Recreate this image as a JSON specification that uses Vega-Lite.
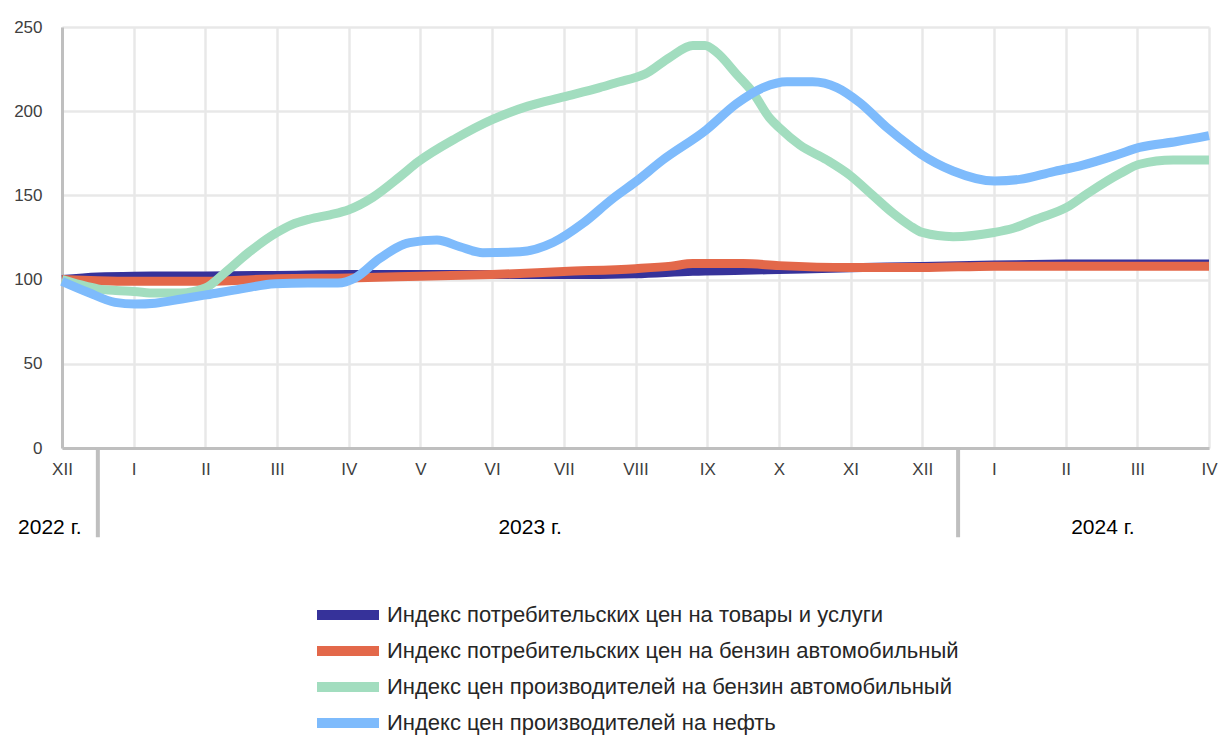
{
  "$schema": "https://vega.github.io/schema/vega-lite/v6.json",
  "width": 1147,
  "height": 421,
  "autosize": {"type": "none"},
  "padding": {"left": 62, "top": 27, "right": 11, "bottom": 288},
  "background": "white",
  "config": {
    "view": {"stroke": null},
    "font": "Liberation Sans",
    "axis": {"labelFont": "Liberation Sans", "labelColor": "#404040", "ticks": false, "title": null, "gridColor": "#e8e8e8", "gridWidth": 2.5, "domainColor": "#bfbfbf", "domainWidth": 3},
    "legend": {"labelFont": "Liberation Sans"}
  },
  "datasets": {
    "series": [
      {"s": "Индекс потребительских цен на товары и услуги", "m": 0, "v": 100},
      {"s": "Индекс потребительских цен на товары и услуги", "m": 0.5, "v": 101.5},
      {"s": "Индекс потребительских цен на товары и услуги", "m": 1, "v": 102},
      {"s": "Индекс потребительских цен на товары и услуги", "m": 2, "v": 102.2},
      {"s": "Индекс потребительских цен на товары и услуги", "m": 3, "v": 102.5},
      {"s": "Индекс потребительских цен на товары и услуги", "m": 4, "v": 103},
      {"s": "Индекс потребительских цен на товары и услуги", "m": 5, "v": 103},
      {"s": "Индекс потребительских цен на товары и услуги", "m": 6, "v": 103},
      {"s": "Индекс потребительских цен на товары и услуги", "m": 7, "v": 103},
      {"s": "Индекс потребительских цен на товары и услуги", "m": 8, "v": 103.5},
      {"s": "Индекс потребительских цен на товары и услуги", "m": 8.8, "v": 105},
      {"s": "Индекс потребительских цен на товары и услуги", "m": 9.5, "v": 105.5},
      {"s": "Индекс потребительских цен на товары и услуги", "m": 10, "v": 106},
      {"s": "Индекс потребительских цен на товары и услуги", "m": 11, "v": 107},
      {"s": "Индекс потребительских цен на товары и услуги", "m": 12, "v": 107.8},
      {"s": "Индекс потребительских цен на товары и услуги", "m": 13, "v": 108.6},
      {"s": "Индекс потребительских цен на товары и услуги", "m": 14, "v": 109.2},
      {"s": "Индекс потребительских цен на товары и услуги", "m": 15, "v": 109.3},
      {"s": "Индекс потребительских цен на товары и услуги", "m": 16, "v": 109.3},

      {"s": "Индекс потребительских цен на бензин автомобильный", "m": 0, "v": 100},
      {"s": "Индекс потребительских цен на бензин автомобильный", "m": 0.5, "v": 99.3},
      {"s": "Индекс потребительских цен на бензин автомобильный", "m": 1, "v": 99},
      {"s": "Индекс потребительских цен на бензин автомобильный", "m": 2, "v": 99},
      {"s": "Индекс потребительских цен на бензин автомобильный", "m": 3, "v": 100.5},
      {"s": "Индекс потребительских цен на бензин автомобильный", "m": 4, "v": 101},
      {"s": "Индекс потребительских цен на бензин автомобильный", "m": 5, "v": 102},
      {"s": "Индекс потребительских цен на бензин автомобильный", "m": 6, "v": 103},
      {"s": "Индекс потребительских цен на бензин автомобильный", "m": 7, "v": 104.8},
      {"s": "Индекс потребительских цен на бензин автомобильный", "m": 8, "v": 106.5},
      {"s": "Индекс потребительских цен на бензин автомобильный", "m": 8.5, "v": 108},
      {"s": "Индекс потребительских цен на бензин автомобильный", "m": 8.8, "v": 109.5},
      {"s": "Индекс потребительских цен на бензин автомобильный", "m": 9.5, "v": 109.5},
      {"s": "Индекс потребительских цен на бензин автомобильный", "m": 10, "v": 108.3},
      {"s": "Индекс потребительских цен на бензин автомобильный", "m": 11, "v": 107.2},
      {"s": "Индекс потребительских цен на бензин автомобильный", "m": 12, "v": 107.2},
      {"s": "Индекс потребительских цен на бензин автомобильный", "m": 13, "v": 108},
      {"s": "Индекс потребительских цен на бензин автомобильный", "m": 14, "v": 108},
      {"s": "Индекс потребительских цен на бензин автомобильный", "m": 15, "v": 108},
      {"s": "Индекс потребительских цен на бензин автомобильный", "m": 16, "v": 108},

      {"s": "Индекс цен производителей на бензин автомобильный", "m": 0, "v": 100},
      {"s": "Индекс цен производителей на бензин автомобильный", "m": 0.25, "v": 97},
      {"s": "Индекс цен производителей на бензин автомобильный", "m": 0.5, "v": 94.5},
      {"s": "Индекс цен производителей на бензин автомобильный", "m": 0.75, "v": 93.5},
      {"s": "Индекс цен производителей на бензин автомобильный", "m": 1.0, "v": 93},
      {"s": "Индекс цен производителей на бензин автомобильный", "m": 1.3, "v": 92},
      {"s": "Индекс цен производителей на бензин автомобильный", "m": 1.65, "v": 92},
      {"s": "Индекс цен производителей на бензин автомобильный", "m": 2.0, "v": 95},
      {"s": "Индекс цен производителей на бензин автомобильный", "m": 2.27, "v": 104},
      {"s": "Индекс цен производителей на бензин автомобильный", "m": 2.6, "v": 116},
      {"s": "Индекс цен производителей на бензин автомобильный", "m": 3.0, "v": 128},
      {"s": "Индекс цен производителей на бензин автомобильный", "m": 3.2, "v": 132.5},
      {"s": "Индекс цен производителей на бензин автомобильный", "m": 3.46, "v": 136},
      {"s": "Индекс цен производителей на бензин автомобильный", "m": 3.74, "v": 138.5},
      {"s": "Индекс цен производителей на бензин автомобильный", "m": 4.0, "v": 141.5},
      {"s": "Индекс цен производителей на бензин автомобильный", "m": 4.34, "v": 149},
      {"s": "Индекс цен производителей на бензин автомобильный", "m": 4.71, "v": 161},
      {"s": "Индекс цен производителей на бензин автомобильный", "m": 4.97, "v": 170},
      {"s": "Индекс цен производителей на бензин автомобильный", "m": 5.5, "v": 184},
      {"s": "Индекс цен производителей на бензин автомобильный", "m": 6.0, "v": 195},
      {"s": "Индекс цен производителей на бензин автомобильный", "m": 6.5, "v": 203},
      {"s": "Индекс цен производителей на бензин автомобильный", "m": 7.0, "v": 208.5},
      {"s": "Индекс цен производителей на бензин автомобильный", "m": 7.5, "v": 214},
      {"s": "Индекс цен производителей на бензин автомобильный", "m": 7.78, "v": 217.5},
      {"s": "Индекс цен производителей на бензин автомобильный", "m": 8.0, "v": 220},
      {"s": "Индекс цен производителей на бензин автомобильный", "m": 8.13, "v": 222},
      {"s": "Индекс цен производителей на бензин автомобильный", "m": 8.48, "v": 232},
      {"s": "Индекс цен производителей на бензин автомобильный", "m": 8.8, "v": 239},
      {"s": "Индекс цен производителей на бензин автомобильный", "m": 8.97, "v": 239},
      {"s": "Индекс цен производителей на бензин автомобильный", "m": 9.13, "v": 235},
      {"s": "Индекс цен производителей на бензин автомобильный", "m": 9.41, "v": 222},
      {"s": "Индекс цен производителей на бензин автомобильный", "m": 9.64, "v": 211},
      {"s": "Индекс цен производителей на бензин автомобильный", "m": 9.87, "v": 196},
      {"s": "Индекс цен производителей на бензин автомобильный", "m": 10.01, "v": 190},
      {"s": "Индекс цен производителей на бензин автомобильный", "m": 10.29, "v": 180},
      {"s": "Индекс цен производителей на бензин автомобильный", "m": 10.67, "v": 171},
      {"s": "Индекс цен производителей на бензин автомобильный", "m": 10.99, "v": 162},
      {"s": "Индекс цен производителей на бензин автомобильный", "m": 11.31, "v": 150},
      {"s": "Индекс цен производителей на бензин автомобильный", "m": 11.59, "v": 139.5},
      {"s": "Индекс цен производителей на бензин автомобильный", "m": 11.83, "v": 132},
      {"s": "Индекс цен производителей на бензин автомобильный", "m": 12.0, "v": 128},
      {"s": "Индекс цен производителей на бензин автомобильный", "m": 12.43, "v": 125.5},
      {"s": "Индекс цен производителей на бензин автомобильный", "m": 13.0, "v": 128},
      {"s": "Индекс цен производителей на бензин автомобильный", "m": 13.27, "v": 130.5},
      {"s": "Индекс цен производителей на бензин автомобильный", "m": 13.6, "v": 136},
      {"s": "Индекс цен производителей на бензин автомобильный", "m": 14.02, "v": 143},
      {"s": "Индекс цен производителей на бензин автомобильный", "m": 14.3, "v": 151},
      {"s": "Индекс цен производителей на бензин автомобильный", "m": 14.76, "v": 163},
      {"s": "Индекс цен производителей на бензин автомобильный", "m": 15.03, "v": 168.5},
      {"s": "Индекс цен производителей на бензин автомобильный", "m": 15.5, "v": 171},
      {"s": "Индекс цен производителей на бензин автомобильный", "m": 16.0, "v": 171},

      {"s": "Индекс цен производителей на нефть", "m": 0, "v": 99},
      {"s": "Индекс цен производителей на нефть", "m": 0.36, "v": 92.5},
      {"s": "Индекс цен производителей на нефть", "m": 0.74, "v": 86.5},
      {"s": "Индекс цен производителей на нефть", "m": 1.02, "v": 85.5},
      {"s": "Индекс цен производителей на нефть", "m": 1.3, "v": 86},
      {"s": "Индекс цен производителей на нефть", "m": 1.67, "v": 88.5},
      {"s": "Индекс цен производителей на нефть", "m": 2.02, "v": 91},
      {"s": "Индекс цен производителей на нефть", "m": 2.5, "v": 94.5},
      {"s": "Индекс цен производителей на нефть", "m": 2.97, "v": 97.5},
      {"s": "Индекс цен производителей на нефть", "m": 3.43, "v": 98},
      {"s": "Индекс цен производителей на нефть", "m": 3.85, "v": 98},
      {"s": "Индекс цен производителей на нефть", "m": 4.09, "v": 101},
      {"s": "Индекс цен производителей на нефть", "m": 4.43, "v": 112.5},
      {"s": "Индекс цен производителей на нефть", "m": 4.85, "v": 122},
      {"s": "Индекс цен производителей на нефть", "m": 5.23, "v": 123.5},
      {"s": "Индекс цен производителей на нефть", "m": 5.55, "v": 119.5},
      {"s": "Индекс цен производителей на нефть", "m": 5.87, "v": 116},
      {"s": "Индекс цен производителей на нефть", "m": 6.39, "v": 116.5},
      {"s": "Индекс цен производителей на нефть", "m": 6.85, "v": 122},
      {"s": "Индекс цен производителей на нефть", "m": 7.27, "v": 133.5},
      {"s": "Индекс цен производителей на нефть", "m": 7.68, "v": 148},
      {"s": "Индекс цен производителей на нефть", "m": 8.0, "v": 158},
      {"s": "Индекс цен производителей на нефть", "m": 8.38, "v": 171},
      {"s": "Индекс цен производителей на нефть", "m": 8.99, "v": 189},
      {"s": "Индекс цен производителей на нефть", "m": 9.41, "v": 204.5},
      {"s": "Индекс цен производителей на нефть", "m": 9.78, "v": 214},
      {"s": "Индекс цен производителей на нефть", "m": 10.11, "v": 217.5},
      {"s": "Индекс цен производителей на нефть", "m": 10.47, "v": 217.5},
      {"s": "Индекс цен производителей на нефть", "m": 10.81, "v": 214},
      {"s": "Индекс цен производителей на нефть", "m": 11.13, "v": 205},
      {"s": "Индекс цен производителей на нефть", "m": 11.5, "v": 190.5},
      {"s": "Индекс цен производителей на нефть", "m": 11.87, "v": 178},
      {"s": "Индекс цен производителей на нефть", "m": 12.0, "v": 174},
      {"s": "Индекс цен производителей на нефть", "m": 12.43, "v": 164.5},
      {"s": "Индекс цен производителей на нефть", "m": 13.01, "v": 158.5},
      {"s": "Индекс цен производителей на нефть", "m": 13.36, "v": 159.5},
      {"s": "Индекс цен производителей на нефть", "m": 13.82, "v": 164},
      {"s": "Индекс цен производителей на нефть", "m": 14.24, "v": 168},
      {"s": "Индекс цен производителей на нефть", "m": 14.71, "v": 174},
      {"s": "Индекс цен производителей на нефть", "m": 15.03, "v": 178.5},
      {"s": "Индекс цен производителей на нефть", "m": 15.55, "v": 182},
      {"s": "Индекс цен производителей на нефть", "m": 16.0, "v": 185.5}
    ],
    "separators": [{"m": 0.5}, {"m": 12.5}],
    "years": [
      {"m": -0.17, "label": "2022 г."},
      {"m": 6.53, "label": "2023 г."},
      {"m": 14.52, "label": "2024 г."}
    ]
  },
  "layer": [
    {
      "data": {"name": "series"},
      "mark": {"type": "line", "strokeWidth": 9, "interpolate": "monotone", "strokeCap": "butt", "strokeJoin": "round"},
      "encoding": {
        "x": {
          "field": "m", "type": "quantitative",
          "scale": {"domain": [0, 16], "nice": false, "zero": false},
          "axis": {"values": [0,1,2,3,4,5,6,7,8,9,10,11,12,13,14,15,16], "labelPadding": 13, "labelFontSize": 17,
            "labelExpr": "['XII','I','II','III','IV','V','VI','VII','VIII','IX','X','XI','XII','I','II','III','IV'][datum.value]",
            "labelFlush": false, "labelOverlap": false}
        },
        "y": {
          "field": "v", "type": "quantitative",
          "scale": {"domain": [0, 250], "nice": false},
          "axis": {"values": [0, 50, 100, 150, 200, 250], "labelPadding": 20, "labelFontSize": 17}
        },
        "color": {
          "field": "s", "type": "nominal", "sort": null,
          "scale": {
            "domain": ["Индекс потребительских цен на товары и услуги", "Индекс потребительских цен на бензин автомобильный", "Индекс цен производителей на бензин автомобильный", "Индекс цен производителей на нефть"],
            "range": ["#36329a", "#e3684a", "#a2ddbf", "#7ebbfc"]
          },
          "legend": {
            "title": null, "orient": "none", "legendX": 250, "legendY": 570, "direction": "vertical",
            "symbolType": "stroke", "symbolStrokeWidth": 10, "symbolSize": 3844,
            "labelFontSize": 22, "labelColor": "#262626", "labelOffset": 3, "rowPadding": 0, "clipHeight": 36, "labelLimit": 900
          }
        }
      }
    },
    {
      "data": {"name": "separators"},
      "mark": {"type": "rule", "color": "#bfbfbf", "strokeWidth": 4, "clip": false},
      "encoding": {
        "x": {"field": "m", "type": "quantitative"},
        "y": {"datum": 0},
        "y2": {"datum": -53}
      }
    },
    {
      "data": {"name": "years"},
      "mark": {"type": "text", "fontSize": 21, "color": "#000000", "baseline": "middle", "align": "center", "font": "Liberation Sans"},
      "encoding": {
        "x": {"field": "m", "type": "quantitative"},
        "y": {"datum": -47.5},
        "text": {"field": "label"}
      }
    }
  ]
}
